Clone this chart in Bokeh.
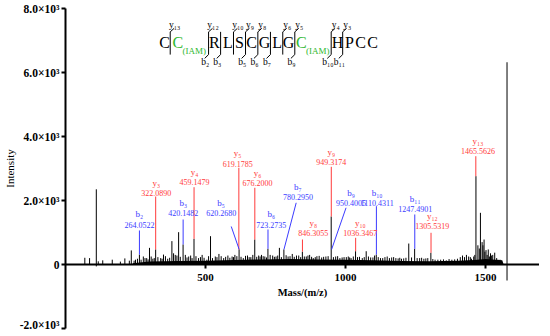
from bokeh.plotting import figure
from bokeh.models import FixedTicker
from bokeh.core.properties import value
from bokeh.embed import file_html
from bokeh.resources import INLINE

# ---------------- data ----------------
# main spectrum sticks (m/z, intensity)
peak_mz = [69, 86, 110, 117, 133, 167, 196, 212, 228, 235, 250, 264, 278, 290, 300, 312, 322, 340,
           350, 365, 380, 392, 404, 420, 440, 459, 475, 488, 505, 518, 535, 548, 565, 580, 595, 605,
           620, 635, 650, 662, 676, 690, 700, 712, 723, 740, 752, 764, 780, 795, 810, 825, 846, 860,
           872, 885, 898, 915, 930, 949, 965, 980, 995, 1010, 1020, 1036, 1050, 1060, 1074, 1090,
           1110, 1125, 1149, 1165, 1180, 1200, 1226, 1247, 1265, 1280, 1294, 1305, 1320, 1340, 1360,
           1380, 1400, 1418, 1425, 1432, 1440, 1450, 1458, 1466, 1473, 1482, 1488, 1495, 1502, 1510,
           1518, 1526, 1533, 1545, 1577]
peak_int = [210, 200, 2350, 100, 130, 150, 90, 190, 120, 440, 150, 310, 250, 200, 520, 180, 470, 200,
            310, 180, 730, 300, 1010, 625, 250, 800, 200, 300, 150, 885, 250, 330, 200, 280, 250, 300,
            470, 200, 280, 230, 780, 280, 300, 250, 490, 280, 250, 520, 470, 250, 330, 280, 400, 250,
            300, 200, 260, 220, 250, 1500, 250, 200, 230, 250, 200, 415, 240, 200, 415, 220,
            310, 200, 250, 220, 200, 180, 655, 490, 200, 180, 200, 365, 150, 150, 130,
            150, 180, 280, 230, 300, 250, 180, 250, 2760, 600, 1615, 700, 780, 450, 470,
            350, 300, 370, 150, 6320]
# smaller noise spikes between the peaks
noise_pk_mz = [245, 257, 270, 284, 295, 306, 317, 330, 345, 357, 372, 386, 398, 410, 428, 434, 447,
               452, 466, 482, 495, 511, 525, 541, 556, 572, 587, 600, 612, 627, 643, 656, 669, 683,
               695, 706, 718, 731, 746, 758, 771, 788, 802, 817, 833, 840, 853, 866, 879, 892, 906,
               922, 938, 957, 972, 988, 1003, 1015, 1028, 1043, 1067, 1082, 1098, 1104, 1117, 1133,
               1141, 1157, 1172, 1188, 1194, 1208, 1216, 1236, 1256, 1272, 1287, 1312, 1330, 1350,
               1370, 1390, 1410, 1446, 1462, 1478, 1491, 1498, 1506, 1514, 1522, 1540, 1552]
noise_pk_int = [120, 180, 150, 200, 160, 250, 200, 230, 180, 260, 210, 350, 280, 240, 300, 220, 280,
                200, 260, 230, 210, 260, 200, 230, 260, 240, 210, 230, 260, 240, 270, 230, 300, 240,
                250, 260, 220, 300, 240, 280, 230, 290, 260, 240, 280, 230, 250, 280, 240, 230, 270,
                240, 260, 230, 260, 220, 230, 220, 250, 230, 230, 250, 220, 280, 230, 200,
                230, 200, 230, 190, 210, 190, 210, 220, 200, 210, 190, 170, 150, 160,
                170, 160, 230, 230, 300, 500, 600, 400, 300, 250, 280, 200, 150]
# negative excursions of the trace
dip_mz = [110, 1577]
dip_int = [-60, -500]
# baseline noise band
noise_mz = [240, 300, 400, 500, 600, 700, 800, 900, 1000, 1100, 1200, 1300, 1400, 1460, 1500, 1560, 1565]
noise_top = [40, 90, 110, 120, 140, 160, 170, 160, 150, 130, 110, 100, 120, 140, 170, 130, 0]

# annotated fragment ions
ion_names = ["b2", "y3", "b3", "y4", "y5", "b5", "y6", "b6", "b7", "y8", "y9", "b9", "y10", "b10",
             "b11", "y12", "y13"]
ion_mz = [264.0522, 322.0890, 420.1482, 459.1479, 619.1785, 620.2680, 676.2000, 723.2735, 780.2950,
          846.3055, 949.3174, 950.4005, 1036.3467, 1110.4311, 1247.4901, 1305.5319, 1465.5626]
ion_int = [310, 470, 625, 800, 470, 470, 780, 490, 470, 400, 1500, 470, 415, 310, 490, 365, 2760]

# axis ticks
x_ticks = [500, 1000, 1500]
y_ticks = [-2000, 0, 2000, 4000, 6000, 8000]
y_tick_labels = ["-2.0×10³", "0", "2.0×10³", "4.0×10³", "6.0×10³", "8.0×10³"]

# peptide sequence
residues = ["C", "C", "R", "L", "S", "C", "G", "L", "G", "C", "H", "P", "C", "C"]
modified = [False, True, False, False, False, False, False, False, False, True, False, False, False, False]
cleave_y = ["y13", "y12", "", "y10", "y9", "y8", "", "y6", "y5", "y4", "y3"]
cleave_b = ["", "b2", "b3", "", "b5", "b6", "b7", "", "b9", "b10", "b11"]

# ---------------- layout (annotation placement) ----------------
label_x = [264, 324, 421, 461, 615, 556, 686, 735, 830, 885, 949, 1020, 1053, 1113, 1249, 1310, 1473]
label_y = [1250, 2240, 1594, 2584, 3156, 1616, 2553, 1250, 2116, 969, 3197, 1928, 969, 1928, 1741, 1197, 3541]
line_x0 = [264.0522, 322.0890, 420.1482, 459.1479, 619.1785, 592, 676.2, 723.2735, 824, 846.3055,
           949.3174, 1002, 1036.3467, 1110.4311, 1247.4901, 1305.5319, 1465.5626]
line_y0 = [1063, 2125, 1406, 2416, 3022, 1188, 2397, 1094, 1928, 781, 3053, 1772, 834, 1822, 1563, 991, 3384]

res_x = [354, 401, 532, 580, 621, 665, 711, 756, 797, 842, 972, 1014, 1054, 1097]
res_y = 6950
iam_dx = 17
iam_y = 6680
cut_x = [374, 511, 554, 600, 643, 687, 732, 776, 819, 949, 990]
cut_top, cut_bot = 7270, 6560

RED = "#ff3b3b"
BLUE = "#3b3bff"
GREEN = "#2fb82f"
FONT = "Liberation Serif"
SUB = str.maketrans("0123456789", "₀₁₂₃₄₅₆₇₈₉")


def lab(n):
    return n[0] + n[1:].translate(SUB)


p = figure(frame_width=474, frame_height=320, x_range=(0, 1693), y_range=(-2000, 8000),
           output_backend="svg", toolbar_location=None,
           min_border_left=60, min_border_right=0, min_border_top=8, min_border_bottom=2)
p.outline_line_color = None
p.grid.visible = False
p.background_fill_color = "white"

# noise band + sticks
p.varea(x=noise_mz, y1=[0] * len(noise_mz), y2=noise_top, fill_color="black")
p.segment(x0=noise_pk_mz, y0=[0] * len(noise_pk_mz), x1=noise_pk_mz, y1=noise_pk_int,
          line_color="black", line_width=1)
p.segment(x0=peak_mz, y0=[0] * len(peak_mz), x1=peak_mz, y1=peak_int, line_color="black", line_width=1)
p.segment(x0=dip_mz, y0=[0] * len(dip_mz), x1=dip_mz, y1=dip_int, line_color="black", line_width=1)

# ion annotations
cols = [RED if n.startswith("y") else BLUE for n in ion_names]
p.segment(x0=line_x0, y0=line_y0, x1=ion_mz, y1=ion_int, line_color=cols, line_width=1)
p.text(x=label_x, y=label_y, text=[f"{m:.4f}" for m in ion_mz], text_color=cols,
       text_align="center", text_baseline="middle", text_font=value(FONT), text_font_size="8px")
p.text(x=label_x, y=[v + 320 for v in label_y], text=[lab(n) for n in ion_names], text_color=cols,
       text_align="center", text_baseline="middle", text_font=value(FONT), text_font_size="9px")

# peptide sequence header
p.text(x=res_x, y=[res_y] * len(res_x), text=residues,
       text_color=[GREEN if m else "black" for m in modified],
       text_align="center", text_baseline="middle", text_font=value(FONT), text_font_size="16px")
mx = [x + iam_dx for x, m in zip(res_x, modified) if m]
p.text(x=mx, y=[iam_y] * len(mx), text=["(IAM)"] * len(mx), text_color=GREEN,
       text_align="left", text_baseline="middle", text_font=value(FONT), text_font_size="9px")
p.segment(x0=cut_x, y0=[cut_top] * len(cut_x), x1=cut_x, y1=[cut_bot] * len(cut_x),
          line_color="black", line_width=1)
yx = [x for x, n in zip(cut_x, cleave_y) if n]
bx = [x for x, n in zip(cut_x, cleave_b) if n]
p.segment(x0=yx, y0=[cut_top] * len(yx), x1=[x + 14 for x in yx], y1=[cut_top + 110] * len(yx),
          line_color="black", line_width=1)
p.segment(x0=bx, y0=[cut_bot] * len(bx), x1=[x - 14 for x in bx], y1=[cut_bot - 120] * len(bx),
          line_color="black", line_width=1)
p.text(x=[x + 16 for x in yx], y=[cut_top + 220] * len(yx), text=[lab(n) for n in cleave_y if n],
       text_color="black", text_align="center", text_baseline="middle", text_font=value(FONT),
       text_font_size="9.5px")
p.text(x=[x - 12 for x in bx], y=[cut_bot - 230] * len(bx), text=[lab(n) for n in cleave_b if n],
       text_color="black", text_align="center", text_baseline="middle", text_font=value(FONT),
       text_font_size="9.5px")

# axes
p.xaxis.fixed_location = 0
p.xaxis.ticker = FixedTicker(ticks=x_ticks)
p.yaxis.ticker = FixedTicker(ticks=y_ticks)
p.yaxis.major_label_overrides = dict(zip(y_ticks, y_tick_labels))
p.xaxis.axis_label = "Mass/(m/z)"
p.yaxis.axis_label = "Intensity"
for ax in (p.xaxis, p.yaxis):
    ax.axis_line_width = 2
    ax.axis_line_color = "black"
    ax.major_tick_line_width = 2
    ax.major_tick_out = 4
    ax.major_tick_in = 0
    ax.minor_tick_line_color = None
    ax.major_label_text_font = FONT
    ax.major_label_text_font_style = "bold"
    ax.major_label_text_color = "black"
    ax.axis_label_text_font = FONT
    ax.axis_label_text_color = "black"
p.xaxis.major_label_text_font_size = "11px"
p.yaxis.major_label_text_font_size = "11.5px"
p.xaxis.axis_label_text_font_style = "bold"
p.xaxis.axis_label_text_font_size = "10.5px"
p.yaxis.axis_label_text_font_style = "normal"
p.yaxis.axis_label_text_font_size = "11px"
p.xaxis.major_label_standoff = 5
p.xaxis.axis_label_standoff = 3
p.yaxis.major_label_standoff = 2
p.yaxis.axis_label_standoff = 1

open("out.html", "w").write(file_html(p, INLINE))
